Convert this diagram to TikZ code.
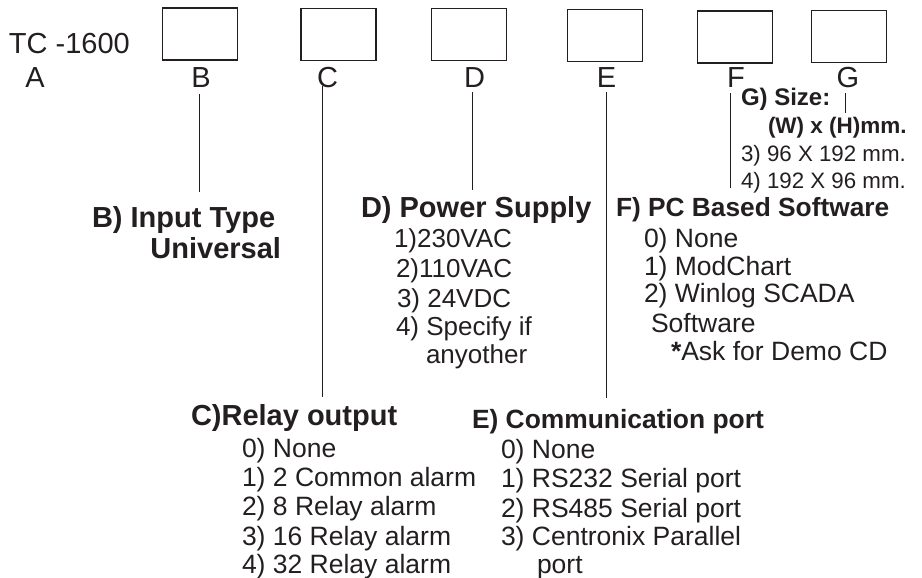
\documentclass[tikz,border=0pt]{standalone}
\usepackage{fontspec}
\setmainfont{Liberation Sans}
\definecolor{ink}{RGB}{35,31,32}
\begin{document}
\begin{tikzpicture}[x=1pt,y=-1pt,
  every node/.style={inner sep=0pt,outer sep=0pt,text=ink},
  reg/.style={font=\fontsize{#1}{#1}\selectfont},
  bld/.style={font=\fontsize{#1}{#1}\selectfont\bfseries},
  txt/.style={anchor=base west},
  letter/.style={anchor=base,reg=29},
  box/.style={draw=ink,line width=1.5pt,minimum width=75pt,minimum height=52pt},
  conn/.style={draw=ink,line width=0.9pt}]
\useasboundingbox (0,0) rectangle (922,578);

% boxes
\node[box] (boxB) at (200,34) {};
\node[box] (boxC) at (338.5,34.5) {};
\node[box] (boxD) at (469,34.5) {};
\node[box] (boxE) at (605,35.5) {};
\node[box] (boxF) at (735,37) {};
\node[box] (boxG) at (849,36.5) {};

% code letters
\node[txt,reg=29] (tc) at (9,54) {TC -1600};
\node[letter] (lA) at (35,88) {A};
\node[letter] (lB) at (201,88) {B};
\node[letter] (lC) at (327.5,88) {C};
\node[letter] (lD) at (474.5,88) {D};
\node[letter] (lE) at (606.5,88) {E};
\node[letter] (lF) at (736,88) {F};
\node[letter] (lG) at (848,88) {G};

% B
\node[txt,bld=29] (hB1) at (92,227) {B) Input Type};
\node[anchor=base east,bld=29] (hB2) at (281,258) {Universal};

% D
\node[txt,bld=29] (hD) at (361,217) {D) Power Supply};
\node[txt,reg=26] (d1) at (394,247) {1)230VAC};
\node[txt,reg=26] (d2) at (396,277) {2)110VAC};
\node[txt,reg=26] (d3) at (397,307) {3) 24VDC};
\node[txt,reg=26] (d4) at (396,335) {4) Specify if};
\node[txt,reg=26] (d5) at (426,363) {anyother};

% G
\node[txt,bld=24,fill=white] (hG1) at (741,106) {G) Size:};
\node[txt,bld=22.5] (hG2) at (768,133) {(W) x (H)mm.};
\node[txt,reg=22.3] (g3) at (741,161) {3) 96 X 192 mm.};
\node[txt,reg=22.3] (g4) at (741,188) {4) 192 X 96 mm.};

% F
\node[txt,bld=26.3] (hF) at (616,216) {F) PC Based Software};
\node[txt,reg=26.5] (f0) at (644,247) {0) None};
\node[txt,reg=26.5] (f1) at (644,275) {1) ModChart};
\node[txt,reg=26.5] (f2) at (644,302) {2) Winlog SCADA};
\node[txt,reg=26.5] (f3) at (651,332) {Software};
\node[txt,reg=26.5] (f4) at (671,360) {{\bfseries *}Ask for Demo CD};

% C
\node[txt,bld=29] (hC) at (191,425) {C)Relay output};
\node[txt,reg=26.5] (c0) at (242,457) {0) None};
\node[txt,reg=26.5] (c1) at (242,486) {1) 2 Common alarm};
\node[txt,reg=26.5] (c2) at (242,515) {2) 8 Relay alarm};
\node[txt,reg=26.5] (c3) at (242,545) {3) 16 Relay alarm};
\node[txt,reg=26.5] (c4) at (242,573) {4) 32 Relay alarm};

% E
\node[txt,bld=26.4] (hE) at (472,428) {E) Communication port};
\node[txt,reg=26.5] (e0) at (501,458) {0) None};
\node[txt,reg=26.5] (e1) at (501,487) {1) RS232 Serial port};
\node[txt,reg=26.5] (e2) at (501,517) {2) RS485 Serial port};
\node[txt,reg=26.5] (e3) at (501,545) {3) Centronix Parallel};
\node[txt,reg=26.5] (e4) at (537,573) {port};

% connector end points
\coordinate (tB) at (199,94);  \coordinate (bB) at (199,192);
\coordinate (tC) at (322,86);  \coordinate (bC) at (322,397);
\coordinate (tD) at (472,92);  \coordinate (bD) at (472,190);
\coordinate (tE) at (606,92);  \coordinate (bE) at (606,398);
\coordinate (tF) at (730,93);  \coordinate (bF) at (730,188);
\coordinate (tG) at (845,93);  \coordinate (bG) at (845,113);

\draw[conn] (tB) -- (bB);
\draw[conn] (tC) -- (bC);
\draw[conn] (tD) -- (bD);
\draw[conn] (tE) -- (bE);
\draw[conn] (tF) -- (bF);
\draw[conn] (tG) -- (bG);
\end{tikzpicture}
\end{document}
